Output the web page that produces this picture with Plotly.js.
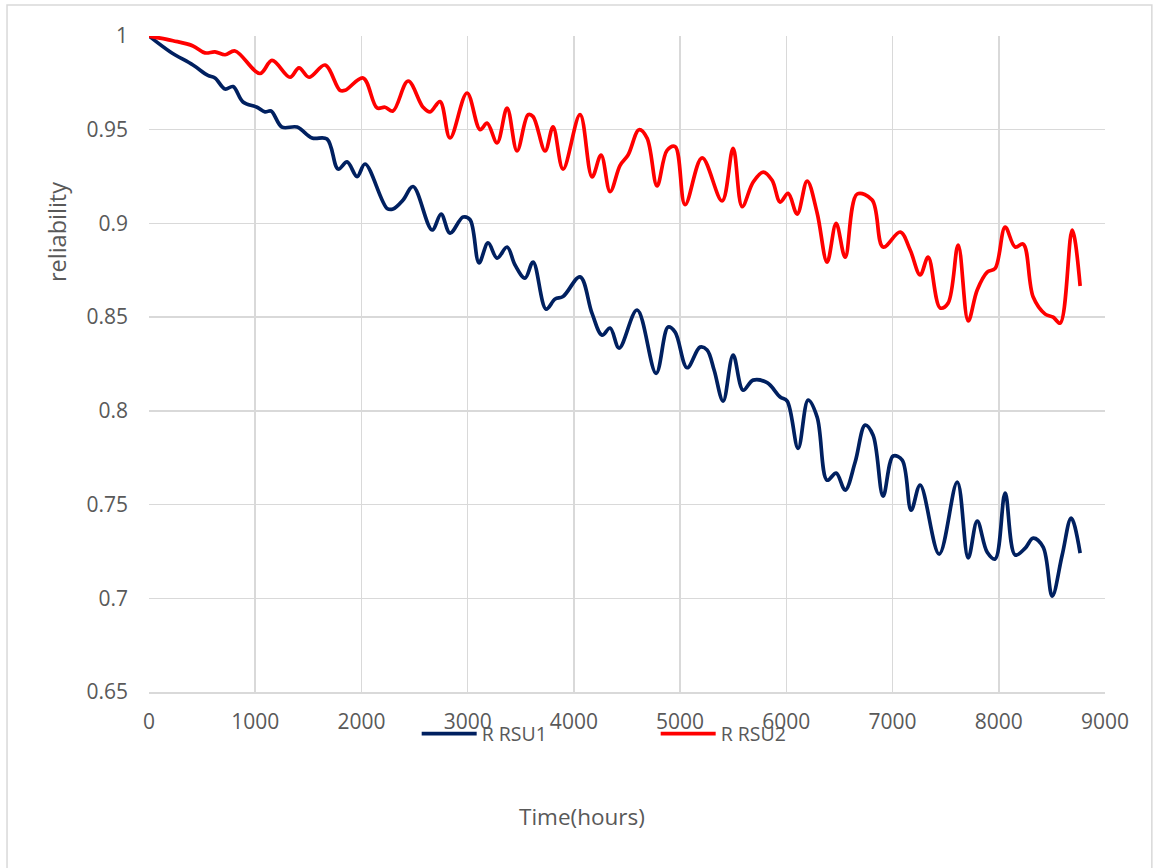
<!DOCTYPE html>
<html>
<head>
<meta charset="utf-8">
<script src="https://cdn.plot.ly/plotly-3.0.1.min.js"></script>
<style>html,body{margin:0;padding:0;background:#fff;}#chart{width:1154px;height:868px;}</style>
</head>
<body>
<div id="chart"></div>
<script>
const seriesNames = ["R RSU1", "R RSU2"];
const xTickVals = [0, 1000, 2000, 3000, 4000, 5000, 6000, 7000, 8000, 9000];
const yTickVals = [0.65, 0.7, 0.75, 0.8, 0.85, 0.9, 0.95, 1];
const yTickText = ["0.65", "0.7", "0.75", "0.8", "0.85", "0.9", "0.95", "1"];

const rsu1Hours = [0,198,414,555,621,716,791,885,1017,1092,1149,1252,1394,1535,1676,1780,1865,1959,2034,2241,2297,2392,2486,2665,2750,2834,2957,3023,3107,3192,3277,3371,3446,3540,3616,3738,3823,3898,4058,4171,4265,4341,4426,4595,4774,4887,4953,5066,5188,5254,5320,5405,5499,5593,5687,5819,5942,6008,6111,6205,6290,6384,6469,6554,6648,6742,6817,6911,7006,7091,7175,7260,7439,7609,7712,7797,7891,7966,8060,8154,8249,8324,8418,8503,8597,8682,8766];
const rsu1Rel = [1.0,0.9916,0.9845,0.979,0.9776,0.9717,0.973,0.9648,0.962,0.9595,0.96,0.9514,0.9514,0.9456,0.945,0.929,0.9328,0.925,0.9317,0.908,0.9077,0.9125,0.9197,0.8965,0.905,0.8948,0.9034,0.902,0.879,0.8896,0.8815,0.8874,0.8778,0.8708,0.8794,0.8543,0.8597,0.861,0.8715,0.852,0.8404,0.8442,0.8335,0.8538,0.82,0.8447,0.842,0.823,0.834,0.8325,0.8218,0.8052,0.8298,0.811,0.8164,0.815,0.8074,0.8052,0.78,0.8057,0.7967,0.763,0.7668,0.7577,0.7727,0.7924,0.787,0.7545,0.7759,0.7737,0.747,0.7604,0.7236,0.762,0.7215,0.7412,0.7246,0.721,0.7561,0.7231,0.7268,0.7321,0.7273,0.7012,0.7231,0.7428,0.7241];

const rsu2Hours = [0,226,414,527,621,716,810,1045,1158,1328,1412,1507,1657,1798,1846,2015,2147,2222,2297,2439,2580,2646,2740,2834,2994,3117,3183,3277,3371,3465,3569,3616,3729,3804,3898,4058,4171,4256,4341,4435,4510,4614,4689,4783,4877,4953,5047,5207,5395,5499,5584,5687,5782,5866,5942,6017,6102,6196,6290,6384,6469,6554,6667,6808,6911,7072,7166,7260,7335,7448,7523,7618,7712,7797,7891,7966,8060,8154,8230,8324,8437,8512,8578,8691,8766];
const rsu2Rel = [1.0,0.9975,0.9947,0.991,0.9915,0.99,0.992,0.98,0.987,0.978,0.983,0.978,0.9845,0.971,0.971,0.9776,0.9616,0.962,0.96,0.976,0.962,0.9595,0.965,0.9456,0.9696,0.95,0.9535,0.943,0.9615,0.9387,0.958,0.957,0.9387,0.9515,0.929,0.958,0.9248,0.9365,0.917,0.931,0.9365,0.95,0.9455,0.92,0.939,0.941,0.91,0.935,0.912,0.94,0.909,0.922,0.9274,0.923,0.9114,0.916,0.905,0.9226,0.9056,0.8794,0.9,0.882,0.9157,0.9125,0.8874,0.8954,0.8858,0.8725,0.882,0.8549,0.8575,0.8885,0.848,0.8645,0.874,0.876,0.898,0.8874,0.889,0.8607,0.8516,0.85,0.8468,0.8965,0.8666];

const seriesColors = ["#002060", "#FF0000"];
const fam = "Open Sans, sans-serif";
const grey = "#595959";
const tickFont = {family: fam, size: 21, color: grey};
const legendFont = {family: fam, size: 19.5, color: grey};
const xTitleFont = {family: fam, size: 22.5, color: grey};
const yTitleFont = {family: fam, size: 23.5, color: grey};

const traces = [
  {x: rsu1Hours, y: rsu1Rel, name: seriesNames[0], type: "scatter", mode: "lines",
   line: {color: seriesColors[0], width: 3.7, shape: "spline", smoothing: 1}},
  {x: rsu2Hours, y: rsu2Rel, name: seriesNames[1], type: "scatter", mode: "lines",
   line: {color: seriesColors[1], width: 3.7, shape: "spline", smoothing: 1}}
];

const layout = {
  width: 1154, height: 868,
  margin: {l: 149, r: 49, t: 36, b: 176},
  paper_bgcolor: "#ffffff", plot_bgcolor: "#ffffff",
  font: tickFont,
  xaxis: {range: [0, 9000], tickvals: xTickVals, ticktext: xTickVals.map(String),
    showgrid: true, gridcolor: "#d9d9d9", gridwidth: 1.5, zeroline: false,
    showline: true, linecolor: "#d9d9d9", linewidth: 1.5, ticks: "", ticklen: 0,
    tickfont: tickFont, ticklabelstandoff: 10, fixedrange: true},
  yaxis: {range: [0.65, 1], tickvals: yTickVals, ticktext: yTickText,
    showgrid: true, gridcolor: "#d9d9d9", gridwidth: 1.5, zeroline: false,
    showline: false, ticks: "", tickfont: tickFont, ticklabelstandoff: 20, fixedrange: true},
  showlegend: true,
  legend: {orientation: "h", x: 0.28, xanchor: "left", y: -0.064, yanchor: "middle",
    font: legendFont, entrywidth: 169, entrywidthmode: "pixels", itemwidth: 55,
    bgcolor: "rgba(0,0,0,0)"},
  annotations: [
    {text: "reliability", xref: "paper", yref: "paper", x: -0.0962, y: 0.7012,
     textangle: -90, showarrow: false, font: yTitleFont, xanchor: "center", yanchor: "middle"},
    {text: "Time(hours)", xref: "paper", yref: "paper", x: 0.4529, y: -0.1905,
     showarrow: false, font: xTitleFont, xanchor: "center", yanchor: "middle"}
  ],
  shapes: [
    {type: "rect", xref: "paper", yref: "paper", x0: -0.1485, x1: 1.049, y0: -0.275, y1: 1.0473,
     line: {color: "#d9d9d9", width: 1.5}, fillcolor: "rgba(0,0,0,0)", layer: "below"}
  ]
};

Plotly.newPlot("chart", traces, layout, {displayModeBar: false, staticPlot: true});
</script>
</body>
</html>
